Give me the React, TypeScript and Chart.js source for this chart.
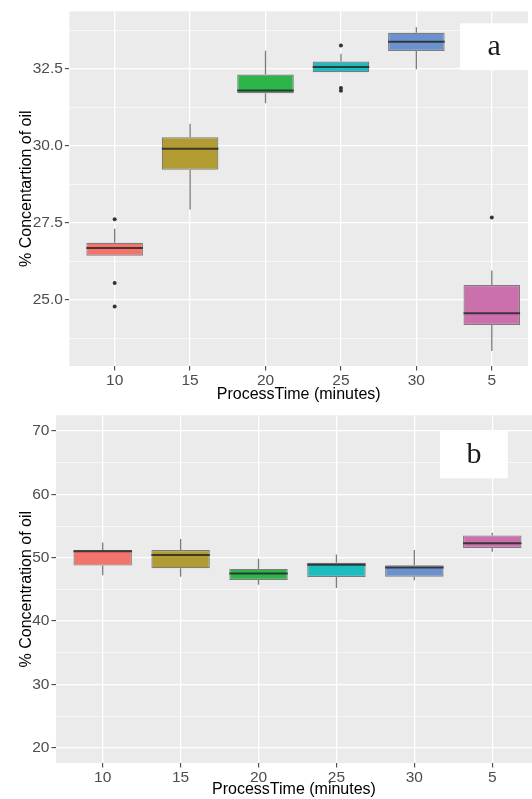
import React, { useEffect, useRef } from "react";
import { Chart, registerables } from "chart.js";

Chart.register(...registerables);

// ---------- data ----------
const categories = ["10", "15", "20", "25", "30", "5"];
const boxColors = ["#F4736B", "#B29B30", "#2DB44A", "#1CBCBF", "#6C92CE", "#CB6FAD"];

// Panel a
const aLower = [26.43, 27.93, 31.38, 32.38, 32.48, 23.34];
const aQ1 = [26.43, 29.22, 31.70, 32.38, 33.07, 24.18];
const aMedian = [26.68, 29.90, 31.79, 32.55, 33.37, 24.56];
const aQ3 = [26.85, 30.27, 32.31, 32.73, 33.66, 25.48];
const aUpper = [27.30, 30.71, 33.08, 32.98, 33.84, 25.95];
const aOutlierCat = ["10", "10", "10", "25", "25", "25", "5"];
const aOutlierVal = [27.61, 25.54, 24.78, 33.25, 31.78, 31.87, 27.67];
const aMajorTicks = [25.0, 27.5, 30.0, 32.5];
const aMinorTicks = [23.75, 26.25, 28.75, 31.25, 33.75];

// Panel b
const bLower = [47.23, 47.02, 45.74, 45.23, 46.46, 50.97];
const bQ1 = [48.77, 48.35, 46.51, 46.97, 47.02, 51.54];
const bMedian = [51.02, 50.46, 47.54, 48.92, 48.46, 52.31];
const bQ3 = [51.23, 51.23, 48.25, 49.23, 48.82, 53.54];
const bUpper = [52.40, 52.97, 49.85, 50.51, 51.23, 53.94];
const bOutlierCat: string[] = [];
const bOutlierVal: number[] = [];
const bMajorTicks = [20, 30, 40, 50, 60, 70];
const bMinorTicks = [25, 35, 45, 55, 65];

const FONT = "'Liberation Sans', Arial, sans-serif";

type Panel = {
  lower: number[]; q1: number[]; median: number[]; q3: number[]; upper: number[];
  outCat: string[]; outVal: number[];
  major: number[]; minor: number[];
  yMin: number; yMax: number; xMax: number;
  fmt: (v: number) => string;
  yTitle: string;
  letter: string;
  letterBox: { x0: number; x1: number; y0: number; y1: number };
  height: number; plotTop: number; xAxisH: number; yAxisW: number;
};

const panelA: Panel = {
  lower: aLower, q1: aQ1, median: aMedian, q3: aQ3, upper: aUpper,
  outCat: aOutlierCat, outVal: aOutlierVal,
  major: aMajorTicks, minor: aMinorTicks,
  yMin: 22.85, yMax: 34.36, xMax: 6.48,
  fmt: (v) => v.toFixed(1),
  yTitle: "% Concentartion of oil",
  letter: "a",
  letterBox: { x0: 5.58, x1: 6.48, y0: 33.97, y1: 32.45 },
  height: 404, plotTop: 7, xAxisH: 38, yAxisW: 69.4,
};

const panelB: Panel = {
  lower: bLower, q1: bQ1, median: bMedian, q3: bQ3, upper: bUpper,
  outCat: bOutlierCat, outVal: bOutlierVal,
  major: bMajorTicks, minor: bMinorTicks,
  yMin: 17.6, yMax: 72.5, xMax: 6.51,
  fmt: (v) => String(v),
  yTitle: "% Concentration of oil",
  letter: "b",
  letterBox: { x0: 5.33, x1: 6.2, y0: 70.0, y1: 62.55 },
  height: 395, plotTop: 2, xAxisH: 36, yAxisW: 55.95,
};

function buildConfig(p: Panel): any {
  const majorSet = new Set(p.major);
  const allY = [...p.major, ...p.minor].sort((a, b) => a - b);

  const bgPlugin = {
    id: "panelBg",
    beforeDraw(chart: any) {
      const { ctx, chartArea: a } = chart;
      ctx.save();
      ctx.fillStyle = "#EBEBEB";
      ctx.fillRect(a.left, a.top, a.right - a.left, a.bottom - a.top);
      ctx.restore();
    },
  };

  const boxPlugin = {
    id: "boxParts",
    afterDatasetsDraw(chart: any) {
      const ctx = chart.ctx;
      const ys = chart.scales.y;
      const meta = chart.getDatasetMeta(0);
      ctx.save();
      meta.data.forEach((bar: any, i: number) => {
        const x = bar.x;
        const w = bar.width;
        // whiskers
        ctx.strokeStyle = "rgba(80,80,80,0.75)";
        ctx.lineWidth = 1.3;
        ctx.beginPath();
        ctx.moveTo(x, ys.getPixelForValue(p.q3[i]));
        ctx.lineTo(x, ys.getPixelForValue(p.upper[i]));
        ctx.moveTo(x, ys.getPixelForValue(p.q1[i]));
        ctx.lineTo(x, ys.getPixelForValue(p.lower[i]));
        ctx.stroke();
        // median
        ctx.strokeStyle = "rgba(40,40,40,0.85)";
        ctx.lineWidth = 2;
        const my = ys.getPixelForValue(p.median[i]);
        ctx.beginPath();
        ctx.moveTo(x - w / 2, my);
        ctx.lineTo(x + w / 2, my);
        ctx.stroke();
      });
      ctx.restore();
    },
    afterDraw(chart: any) {
      const ctx = chart.ctx;
      const xs = chart.scales.x;
      const ys = chart.scales.y;
      const b = p.letterBox;
      const x0 = xs.getPixelForValue(b.x0);
      const x1 = xs.getPixelForValue(b.x1);
      const y0 = ys.getPixelForValue(b.y0);
      const y1 = ys.getPixelForValue(b.y1);
      ctx.save();
      ctx.fillStyle = "#FFFFFF";
      ctx.fillRect(x0, y0, x1 - x0, y1 - y0);
      ctx.fillStyle = "#1A1A1A";
      ctx.font = "30px 'Liberation Serif', 'Times New Roman', serif";
      ctx.textAlign = "center";
      ctx.textBaseline = "middle";
      ctx.fillText(p.letter, (x0 + x1) / 2, (y0 + y1) / 2);
      ctx.restore();
    },
  };

  return {
    type: "bar",
    data: {
      datasets: [
        {
          type: "bar",
          data: categories.map((_, i) => ({ x: i + 1, y: [p.q1[i], p.q3[i]] })),
          backgroundColor: boxColors,
          borderColor: "rgba(50,50,50,0.6)",
          borderWidth: 1.2,
          borderSkipped: false,
          barPercentage: 0.75,
          categoryPercentage: 1,
          order: 2,
        },
        {
          type: "scatter",
          data: p.outCat.map((c, i) => ({ x: categories.indexOf(c) + 1, y: p.outVal[i] })),
          pointRadius: 2,
          pointBackgroundColor: "#333333",
          pointBorderWidth: 0,
          backgroundColor: "#333333",
          order: 0,
        },
      ],
    },
    options: {
      animation: false,
      responsive: false,
      devicePixelRatio: 1,
      layout: { padding: { top: p.plotTop, left: 0, right: 0, bottom: 0 } },
      plugins: { legend: { display: false }, tooltip: { enabled: false } },
      scales: {
        x: {
          type: "linear",
          min: 0.4,
          max: p.xMax,
          offset: false,
          afterBuildTicks: (s: any) => {
            s.ticks = categories.map((_, i) => ({ value: i + 1 }));
          },
          afterFit: (s: any) => {
            s.height = p.xAxisH;
          },
          ticks: {
            autoSkip: false,
            maxRotation: 0,
            padding: 0.5,
            color: "#4D4D4D",
            font: { family: FONT, size: 15.5 },
            callback: (v: number) => categories[Math.round(v) - 1] ?? "",
          },
          grid: {
            offset: false,
            color: "#FFFFFF",
            lineWidth: 1.3,
            tickColor: "#333333",
            tickLength: 4.5,
            tickWidth: 1,
          },
          border: { display: false },
          title: {
            display: true,
            text: "ProcessTime (minutes)",
            color: "#000000",
            font: { family: FONT, size: 16 },
            padding: { top: 0, bottom: 0 },
          },
        },
        y: {
          type: "linear",
          min: p.yMin,
          max: p.yMax,
          afterBuildTicks: (s: any) => {
            s.ticks = allY.map((v) => ({ value: v }));
          },
          afterFit: (s: any) => {
            s.width = p.yAxisW;
          },
          ticks: {
            autoSkip: false,
            padding: 2,
            color: "#4D4D4D",
            font: { family: FONT, size: 15.5 },
            callback: (v: number) => (majorSet.has(v) ? p.fmt(v) : ""),
          },
          grid: {
            color: "#FFFFFF",
            lineWidth: (c: any) => (c.tick && majorSet.has(c.tick.value) ? 1.3 : 0.6),
            tickColor: (c: any) =>
              c.tick && majorSet.has(c.tick.value) ? "#333333" : "rgba(0,0,0,0)",
            tickLength: 4.5,
            tickWidth: 1,
          },
          border: { display: false },
          title: {
            display: true,
            text: p.yTitle,
            color: "#000000",
            font: { family: FONT, size: 16 },
            padding: { top: 16.5, bottom: 0 },
          },
        },
      },
    },
    plugins: [bgPlugin, boxPlugin],
  };
}

function BoxPanel({ panel, top }: { panel: Panel; top: number }) {
  const ref = useRef<HTMLCanvasElement | null>(null);
  useEffect(() => {
    if (!ref.current) return;
    const chart = new Chart(ref.current, buildConfig(panel));
    return () => chart.destroy();
  }, [panel]);
  return (
    <canvas
      ref={ref}
      width={532}
      height={panel.height}
      style={{ position: "absolute", left: 0, top, width: 532, height: panel.height }}
    />
  );
}

export default function App() {
  return (
    <div
      style={{
        position: "absolute",
        left: 0,
        top: 0,
        width: 532,
        height: 799,
        overflow: "hidden",
        background: "#FFFFFF",
      }}
    >
      <BoxPanel panel={panelA} top={0} />
      <BoxPanel panel={panelB} top={404} />
    </div>
  );
}
